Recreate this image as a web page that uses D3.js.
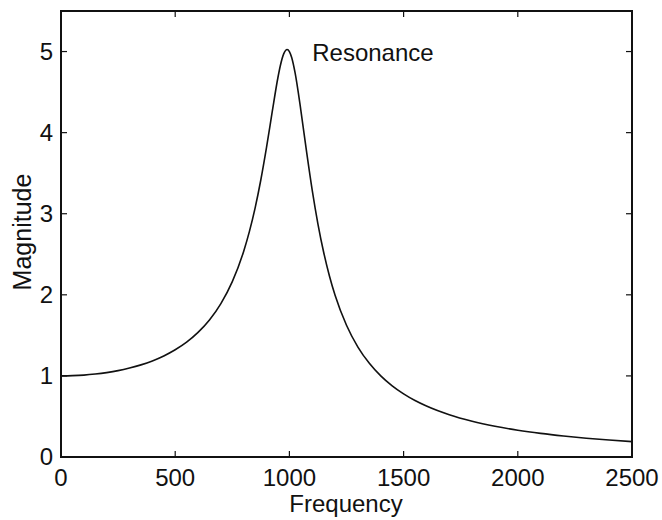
<!DOCTYPE html>
<html>
<head>
<meta charset="utf-8">
<script src="https://cdn.jsdelivr.net/npm/d3@7"></script>
<style>
  body { margin: 0; background: #fff; }
  svg text { font-family: "Liberation Sans", Arial, sans-serif; fill: #111; }
</style>
</head>
<body>
<svg id="chart" width="662" height="520"></svg>
<script>
// values
var freq = [0, 50, 100, 150, 200, 250, 300, 350, 400, 450, 500, 550, 600, 650, 700, 750, 800,
            825, 850, 875, 900, 925, 950, 960, 975, 990, 1000, 1010, 1025, 1050, 1075, 1100, 1125,
            1150, 1175, 1200, 1250, 1300, 1350, 1400, 1450, 1500, 1550, 1600, 1700, 1800, 1900,
            2000, 2100, 2200, 2300, 2400, 2500];
var magnitude = [1.0, 1.003, 1.010, 1.023, 1.041, 1.065, 1.097, 1.136, 1.185, 1.246, 1.322, 1.416, 1.536, 1.689, 1.891, 2.162, 2.538,
                 2.782, 3.073, 3.419, 3.821, 4.261, 4.683, 4.822, 4.971, 5.025, 5.0, 4.926, 4.736, 4.279, 3.768, 3.288, 2.873,
                 2.525, 2.236, 1.995, 1.625, 1.356, 1.155, 1.0, 0.877, 0.778, 0.696, 0.628, 0.521, 0.441, 0.379,
                 0.330, 0.291, 0.259, 0.232, 0.209, 0.190];
var xTicks = [0, 500, 1000, 1500, 2000, 2500];
var yTicks = [0, 1, 2, 3, 4, 5];
var note = { text: "Resonance", x: 1100, y: 5 };

var svg = d3.select("#chart");
var mLeft = 61, mRight = 632, mTop = 11, mBottom = 457;

var x = d3.scaleLinear().domain([0, 2500]).range([mLeft, mRight]);
var y = d3.scaleLinear().domain([0, 5.5]).range([mBottom, mTop]);

var fs = 24;

// ticks on all four sides, pointing inward
var g = svg.append("g");
xTicks.forEach(function(t) {
  g.append("line").attr("x1", x(t)).attr("x2", x(t)).attr("y1", mBottom).attr("y2", mBottom - 6);
  g.append("line").attr("x1", x(t)).attr("x2", x(t)).attr("y1", mTop).attr("y2", mTop + 6);
});
yTicks.forEach(function(t) {
  g.append("line").attr("x1", mLeft).attr("x2", mLeft + 6).attr("y1", y(t)).attr("y2", y(t));
  g.append("line").attr("x1", mRight).attr("x2", mRight - 6).attr("y1", y(t)).attr("y2", y(t));
});
g.selectAll("line").attr("stroke", "#111").attr("stroke-width", 1.2);

// curve
var line = d3.line()
  .x(function(d, i) { return x(freq[i]); })
  .y(function(d) { return y(d); })
  .curve(d3.curveMonotoneX);

svg.append("path")
  .datum(magnitude)
  .attr("d", line)
  .attr("fill", "none")
  .attr("stroke", "#111")
  .attr("stroke-width", 1.6);

// box
svg.append("rect")
  .attr("x", mLeft).attr("y", mTop)
  .attr("width", mRight - mLeft).attr("height", mBottom - mTop)
  .attr("fill", "none").attr("stroke", "#111").attr("stroke-width", 2);

// tick labels
svg.selectAll(".xl").data(xTicks).enter().append("text")
  .attr("class", "xl")
  .attr("x", function(d) { return x(d); })
  .attr("y", mBottom + 29)
  .attr("text-anchor", "middle")
  .attr("font-size", fs)
  .text(function(d) { return d; });

svg.selectAll(".yl").data(yTicks).enter().append("text")
  .attr("class", "yl")
  .attr("x", mLeft - 8)
  .attr("y", function(d) { return y(d) + 8; })
  .attr("text-anchor", "end")
  .attr("font-size", fs)
  .text(function(d) { return d; });

// axis titles
svg.append("text")
  .attr("x", 346)
  .attr("y", 512)
  .attr("text-anchor", "middle")
  .attr("font-size", fs)
  .text("Frequency");

svg.append("text")
  .attr("transform", "translate(31,232) rotate(-90)")
  .attr("text-anchor", "middle")
  .attr("font-size", 25)
  .text("Magnitude");

svg.append("text")
  .attr("x", x(note.x))
  .attr("y", y(note.y) + 9)
  .attr("font-size", fs)
  .text(note.text);
</script>
</body>
</html>
